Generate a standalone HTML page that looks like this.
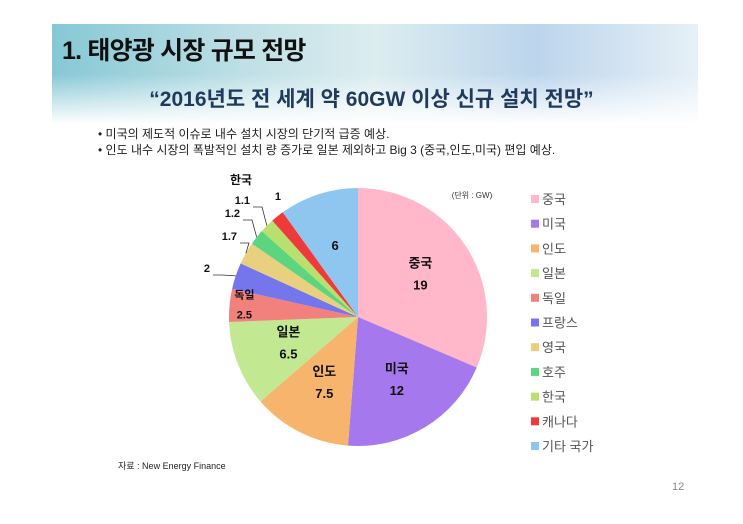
<!DOCTYPE html>
<html><head><meta charset="utf-8">
<style>
body{margin:0;width:743px;height:524px;background:#fff;overflow:hidden;font-family:"Liberation Sans","Noto Sans CJK KR",sans-serif;position:relative}
#banner{position:absolute;left:52px;top:24px;width:646px;height:100px;background:linear-gradient(180deg,rgba(255,255,255,0) 0%,rgba(255,255,255,0) 50%,#fff 100%),linear-gradient(90deg,#86c8d5 0%,#bfe0e6 30%,#dcedf0 50%,#bcd5ec 75%,#e6f0f7 100%)}
#title{position:absolute;left:62px;top:31px;font-size:25px;font-weight:bold;color:#111;letter-spacing:-0.8px}
#subtitle{position:absolute;left:0;width:743px;text-align:center;top:83px;font-size:21px;font-weight:bold;color:#1f3a5a}
.bullet{position:absolute;left:98px;font-size:12px;color:#222}
#src{position:absolute;left:118px;top:459px;font-size:9px;color:#222}
#pg{position:absolute;left:672px;top:481px;font-size:11px;color:#888}
</style></head><body>
<div id="banner"></div>
<div id="title">1. 태양광 시장 규모 전망</div>
<div id="subtitle">“2016년도 전 세계 약 60GW 이상 신규 설치 전망”</div>
<div class="bullet" style="top:125px">• 미국의 제도적 이슈로 내수 설치 시장의 단기적 급증 예상.</div>
<div class="bullet" style="top:141px">• 인도 내수 시장의 폭발적인 설치 량 증가로 일본 제외하고 Big 3 (중국,인도,미국)  편입 예상.</div>
<svg id="chart" width="743" height="524" style="position:absolute;left:0;top:0"></svg>
<div id="src">자료 : New Energy Finance</div>
<div id="pg">12</div>
<script>
const categories=["중국","미국","인도","일본","독일","프랑스","영국","호주","한국","캐나다","기타 국가"];
const values=[19,12,7.5,6.5,2.5,2,1.7,1.2,1.1,1,6];
const colors=["#FFB7C9","#A678EE","#F6B46C","#C2E891","#F2817E","#7575EC","#E9D07E","#5DD57E","#B9E06E","#EE3A3A","#8FC6F0"];
const NS="http://www.w3.org/2000/svg";
const svg=document.getElementById('chart');
const cx=358,cy=317,r=129;
const total=values.reduce((a,b)=>a+b,0);
function pt(a,rr){return [cx+rr*Math.sin(a),cy-rr*Math.cos(a)];}
function txt(x,y,s,size,anchor,weight,fill){const t=document.createElementNS(NS,'text');t.setAttribute('x',x);t.setAttribute('y',y);t.setAttribute('font-size',size);t.setAttribute('text-anchor',anchor||'middle');t.setAttribute('font-weight',weight||'bold');t.setAttribute('fill',fill||'#111');t.textContent=s;svg.appendChild(t);return t;}
let acc=0;
const mids=[];
values.forEach((v,i)=>{
 const a0=acc/total*2*Math.PI;acc+=v;const a1=acc/total*2*Math.PI;
 const p0=pt(a0,r),p1=pt(a1,r);
 const p=document.createElementNS(NS,'path');
 p.setAttribute('d',`M${cx},${cy}L${p0[0]},${p0[1]}A${r},${r} 0 ${a1-a0>Math.PI?1:0} 1 ${p1[0]},${p1[1]}Z`);
 p.setAttribute('fill',colors[i]);
 
 
 svg.appendChild(p);
 mids.push((a0+a1)/2);
});
const inside=[0,1,2,3,10];
inside.forEach(i=>{
 const m=pt(mids[i],r*0.58);
 if(i!==10){const t=txt(m[0],m[1]-8,categories[i],13);}
 const t2=txt(m[0],i===10?m[1]+4:m[1]+14,String(values[i]),13);
 
 
});
{const m=pt(mids[4],r*0.9);const t=txt(m[0]+2,m[1]-8,categories[4],11);
const t2=txt(m[0]+2,m[1]+12,String(values[4]),11);}
const outs=[[5,210,272],[6,237,240],[7,240,217],[8,250,204],[9,281,200]];
outs.forEach(([i,lx,ly])=>{
 const e=pt(mids[i],r);
 const l=document.createElementNS(NS,'polyline');
 l.setAttribute('points',`${lx+3},${ly+3} ${lx+12},${ly+3} ${e[0]},${e[1]}`);
 l.setAttribute('fill','none');l.setAttribute('stroke','#333');l.setAttribute('stroke-width','0.8');
 if(i===9)l.setAttribute('stroke-width','0');
 
 
 svg.appendChild(l);
 const t=txt(lx,ly,String(values[i]),11,'end');
 
 
});
{const t=txt(241,184,categories[8],12);}
{const t=txt(472,198,'(단위 : GW)',8,'middle','normal','#333');}
categories.forEach((c,i)=>{
 const y=195+i*24.7;
 const rc=document.createElementNS(NS,'rect');
 rc.setAttribute('x',531);rc.setAttribute('y',y);rc.setAttribute('width',8);rc.setAttribute('height',8);rc.setAttribute('fill',colors[i]);
 
 
 svg.appendChild(rc);
 const t=txt(542,y+9,c,13,'start','normal','#555');
 
 
});
</script>
</body></html>
